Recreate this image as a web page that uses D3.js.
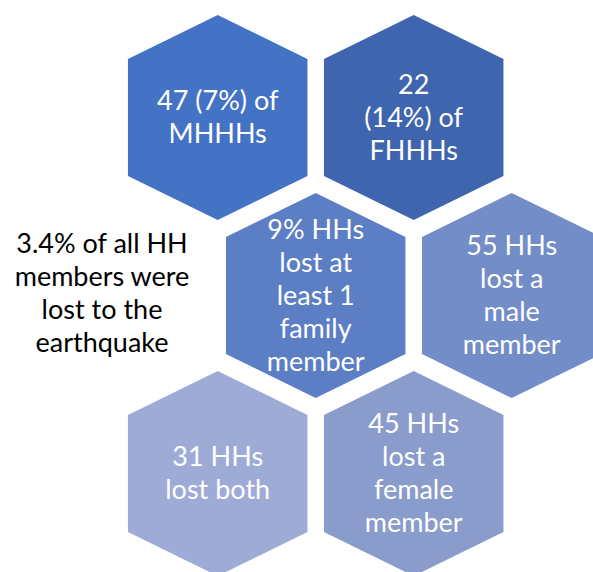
<!DOCTYPE html>
<html>
<head>
<meta charset="utf-8">
<script src="https://cdn.jsdelivr.net/npm/d3@7"></script>
<style>
  html, body { margin: 0; padding: 0; background: #ffffff; }
  svg { display: block; }
</style>
</head>
<body>
<svg id="chart" width="593" height="572"></svg>
<script>
// ---- data ----
const hexLabels = [
  ["47 (7%) of", "MHHHs"],
  ["22", "(14%) of", "FHHHs"],
  ["9% HHs", "lost at", "least 1", "family", "member"],
  ["55 HHs", "lost a", "male", "member"],
  ["31 HHs", "lost both"],
  ["45 HHs", "lost a", "female", "member"]
];
const hexColors = ["#4472C4", "#3E65AE", "#5B7EC5", "#728DC8", "#9EABD6", "#899CCB"];
const sideNote = ["3.4% of all HH", "members were", "lost to the", "earthquake"];

// ---- layout ----
const svg = d3.select("#chart");
const W = 593, H = 572;
const hexW = 179.5, hexH = 205, slant = 44;
const lineH = 33;
const fontSize = 27;
const fontFamily = "Lato, 'Open Sans', sans-serif";

const x = d3.scaleLinear().domain([0, 1]).range([217.7, 413.7]);
const y = d3.scaleLinear().domain([0, 1]).range([117.5, 295.5]);

const cells = hexLabels.map((lines, i) => {
  const row = Math.floor(i / 2), col = i % 2;
  return { lines, color: hexColors[i], cx: x(col + (row % 2) * 0.5), cy: y(row) };
});

const hw = hexW / 2, hh = hexH / 2, sh = hh - slant;
const hexPts = [[0, -hh], [hw, -sh], [hw, sh], [0, hh], [-hw, sh], [-hw, -sh]];
const line = d3.line();

const g = svg.selectAll("g.hex").data(cells).join("g")
  .attr("class", "hex")
  .attr("transform", d => `translate(${d.cx},${d.cy})`);

g.append("path")
  .attr("d", line(hexPts) + "Z")
  .attr("fill", d => d.color);

g.append("text")
  .attr("text-anchor", "middle")
  .attr("fill", "#ffffff")
  .style("font-family", fontFamily)
  .style("font-size", fontSize + "px")
  .selectAll("tspan")
  .data(d => d.lines.map((t, j) => ({ t, j, n: d.lines.length })))
  .join("tspan")
  .attr("x", 0)
  .attr("y", d => (d.j - (d.n - 1) / 2) * lineH + 9)
  .text(d => d.t);

// side note
svg.append("text")
  .attr("text-anchor", "middle")
  .attr("fill", "#000000")
  .style("font-family", fontFamily)
  .style("font-size", fontSize + "px")
  .selectAll("tspan")
  .data(sideNote)
  .join("tspan")
  .attr("x", 102)
  .attr("y", (d, i) => 253 + i * 33)
  .text(d => d);
</script>
</body>
</html>
